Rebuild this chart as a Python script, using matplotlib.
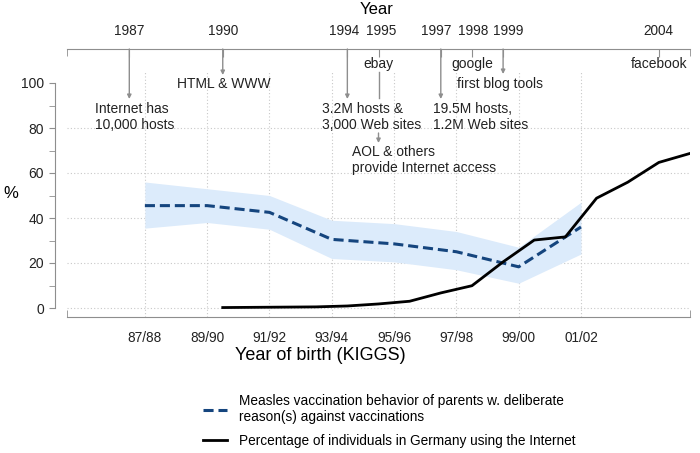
import matplotlib.pyplot as plt
import matplotlib.transforms as mtransforms

plt.rcParams['font.family'] = ['Liberation Sans', 'DejaVu Sans']
plt.rcParams['font.size'] = 10

# data
birth_labels = ["87/88", "89/90", "91/92", "93/94", "95/96", "97/98", "99/00", "01/02"]
birth_x = [1987.5, 1989.5, 1991.5, 1993.5, 1995.5, 1997.5, 1999.5, 2001.5]
measles = [45.5, 45.5, 42.5, 30.5, 28.5, 25.0, 18.3, 36.0]
measles_hi = [56.0, 53.0, 50.0, 39.0, 37.5, 34.0, 27.0, 47.0]
measles_lo = [35.5, 38.0, 35.0, 22.0, 20.5, 17.0, 11.0, 24.0]

net_years = list(range(1990, 2006))
net_pct = [0.2, 0.3, 0.4, 0.5, 0.9, 1.8, 3.0, 6.7, 9.9, 20.5,
           30.2, 31.6, 48.8, 55.9, 64.7, 68.7]

top_years = [1987, 1990, 1994, 1995, 1997, 1998, 1999, 2004]
# small nudges so neighbouring year labels don't collide
top_label_x = [1987, 1990, 1993.9, 1995.1, 1996.85, 1998.05, 1999.15, 2004]

W, H = 700, 453
fig = plt.figure(figsize=(7.0, 4.53), dpi=100)

def px(x0, y0, x1, y1):
    return [x0 / W, 1 - y1 / H, (x1 - x0) / W, (y1 - y0) / H]

gray = '#8e8e8e'
txt = '#222222'
ax = fig.add_axes(px(67, 71.75, 690, 317))
ax.set_xlim(1985, 2005)
ax.set_ylim(-4, 105)

ax.fill_between(birth_x, measles_lo, measles_hi, color='#dcebfb', lw=0, zorder=1)
ax.plot(birth_x, measles, color='#15457e', lw=2.2, ls=(0, (3.3, 1.6)), zorder=3,
        label='Measles vaccination behavior of parents w. deliberate\nreason(s) against vaccinations')
ax.plot(net_years, net_pct, color='black', lw=2, zorder=4,
        label='Percentage of individuals in Germany using the Internet')

for v in [0, 20, 40, 60, 80]:
    ax.axhline(v, color='#c8c8c8', lw=0.8, ls=(0, (1, 2)), zorder=0)
for v in birth_x:
    ax.axvline(v, color='#c8c8c8', lw=0.8, ls=(0, (1, 2)), zorder=0)

for s in ['top', 'right']:
    ax.spines[s].set_visible(False)
ax.spines['left'].set_position(('outward', 9))
ax.spines['left'].set_bounds(0, 100)
ax.spines['left'].set_color(gray)
ax.spines['bottom'].set_color(gray)
ax.set_yticks([0, 20, 40, 60, 80, 100])
ax.set_yticks([10, 30, 50, 70, 90], minor=True)
ax.tick_params(axis='y', which='both', colors=gray, labelcolor=txt, labelsize=10, length=4)
ax.set_xticks(birth_x)
ax.set_xticklabels(birth_labels)
ax.set_xticks([1985, 2005], minor=True)
ax.tick_params(axis='x', which='major', length=0, pad=10, labelsize=9.8, labelcolor=txt)
ax.tick_params(axis='x', which='minor', direction='in', length=5, colors=gray)
fig.text(11 / W, 1 - 194 / H, '%', fontsize=12, ha='center', va='center')
fig.text(320 / W, 1 - 356 / H, 'Year of birth (KIGGS)', fontsize=13, ha='center', va='center')

# top year axis
axt = fig.add_axes(px(67, 49, 690, 60))
axt.set_xlim(1985, 2005)
axt.set_ylim(0, 1)
for s in ['bottom', 'left', 'right']:
    axt.spines[s].set_visible(False)
axt.spines['top'].set_color(gray)
axt.patch.set_visible(False)
axt.set_yticks([])
axt.xaxis.tick_top()
axt.set_xticks(top_years)
axt.set_xticklabels([])
axt.set_xticks([1985, 2005], minor=True)
axt.tick_params(axis='x', which='major', direction='in', length=6, colors=gray)
axt.tick_params(axis='x', which='minor', direction='in', length=5, colors=gray)
fig.text(377 / W, 1 - 10 / H, 'Year', fontsize=12, ha='center', va='center')

tr = mtransforms.blended_transform_factory(ax.transData, fig.transFigure)

def fy(p):
    return 1 - p / H

for xl, yr in zip(top_label_x, top_years):
    ax.text(xl, fy(31), str(yr), transform=tr, ha='center', va='center',
            fontsize=9.8, color=txt, clip_on=False)

def arrow(x, y0, y1):
    ax.annotate('', xy=(x, fy(y1)), xytext=(x, fy(y0)), xycoords=tr, textcoords=tr,
                arrowprops=dict(arrowstyle='-|>', color=gray, lw=1, mutation_scale=6,
                                shrinkA=0, shrinkB=0), annotation_clip=False)

def label(x, y, s, ha='left'):
    ax.text(x, fy(y), s, transform=tr, ha=ha, va='center', fontsize=10,
            color=txt, linespacing=1.15, clip_on=False)

arrow(1987, 49, 99)
label(1985.9, 117, 'Internet has\n10,000 hosts')
arrow(1990, 49, 75)
label(1990.05, 84, 'HTML & WWW', ha='center')
arrow(1994, 49, 99)
label(1993.2, 117, '3.2M hosts &\n3,000 Web sites')
label(1995, 64, 'ebay', ha='center')
ax.plot([1995, 1995], [fy(72), fy(98)], transform=tr, color=gray, lw=1, clip_on=False)
arrow(1995, 133, 143)
label(1994.15, 160, 'AOL & others\nprovide Internet access')
arrow(1997, 49, 99)
label(1996.75, 117, '19.5M hosts,\n1.2M Web sites')
label(1998, 64, 'google', ha='center')
arrow(1999, 49, 74)
label(1998.9, 84, 'first blog tools', ha='center')
label(2004, 64, 'facebook', ha='center')

fig.legend(loc='upper left', bbox_to_anchor=(203 / W, 1 - 394 / H), frameon=False,
           fontsize=9.8, handlelength=1.75, labelspacing=0.7, handletextpad=0.9,
           borderpad=0, borderaxespad=0)

fig.savefig('out.png', dpi=100)
